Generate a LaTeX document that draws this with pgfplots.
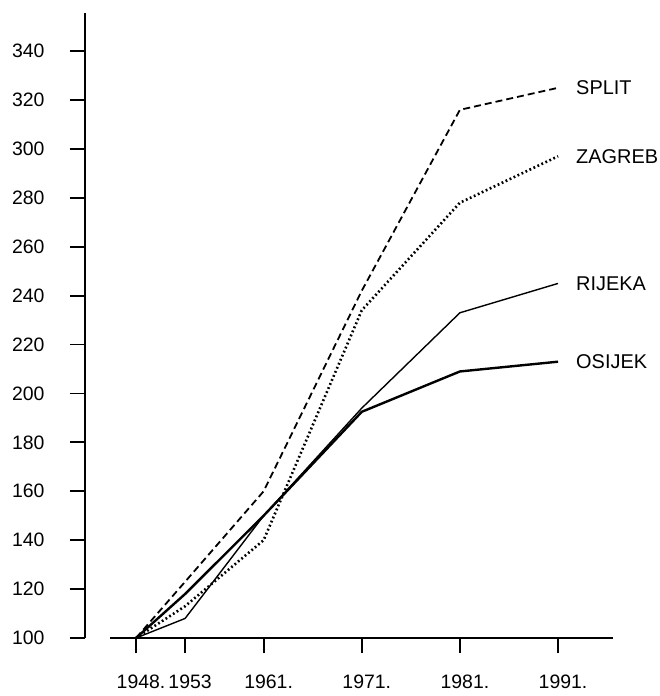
\documentclass[border=0pt]{standalone}
\usepackage{fontspec}
\setmainfont{Liberation Sans}
\usepackage{pgfplots}
\pgfplotsset{compat=1.18}

\begin{document}
\begin{tikzpicture}
\path[use as bounding box] (0,0) rectangle (660bp,696bp);
\begin{axis}[
    at={(85bp,58bp)}, anchor=south west,
    scale only axis,
    width=528bp, height=625bp,
    xmin=1942.8, xmax=1996.6,
    ymin=100, ymax=355.6,
    axis lines=left,
    axis line style={-, line width=1.8bp},
    x axis line style={draw=none},
    tick align=outside,
    major tick length=15bp,
    tick style={line width=1.8bp, black},
    xtick={1948,1953,1961,1971,1981,1991},
    xticklabels={1948.,1953,1961.,1971.,1981.,1991.},
    ytick={100,120,...,340},
    yticklabels={100,120,140,160,180,200,220,240,260,280,300,320,340},
    ticklabel style={font=\fontsize{19.5}{19.5}\selectfont},
    xticklabel shift=18bp,
    yticklabel shift=22bp,
    xticklabel style={xshift=5bp},
    clip=false,
]
% SPLIT
\addplot[black, line width=1.8bp, dash pattern=on 7bp off 4bp] coordinates {
    (1948,100) (1953,123) (1961,160) (1971,242) (1981,316) (1991,325)};
% ZAGREB
\addplot[black, line width=2.6bp, dash pattern=on 1.8bp off 2.6bp] coordinates {
    (1948,100) (1953,113) (1961,140) (1971,234) (1981,278) (1991,297)};
% RIJEKA
\addplot[black, line width=1.4bp] coordinates {
    (1948,100) (1953,108) (1961,150) (1971,194) (1981,233) (1991,245)};
% OSIJEK
\addplot[black, line width=2.4bp] coordinates {
    (1948,100) (1953,118) (1961,150) (1971,192.5) (1981,209) (1991,213)};

% os x ne dira os y
\draw[line width=1.8bp] (axis cs:1945.35,100) -- (axis cs:1996.6,100);
% crtice (tick marks), da budu sigurno vidljive
\pgfplotsinvokeforeach{100,120,...,340}{
    \draw[line width=1.8bp] (axis cs:1942.8,#1) -- ++(-15bp,0pt);
}
\pgfplotsinvokeforeach{1948,1953,1961,1971,1981,1991}{
    \draw[line width=1.8bp] (axis cs:#1,100) -- ++(0pt,-15bp);
}

\tikzset{grad/.style={anchor=west, inner sep=0pt, xshift=18bp, font=\fontsize{20}{20}\selectfont}}
\node[grad] at (axis cs:1991,325) {SPLIT};
\node[grad] at (axis cs:1991,297) {ZAGREB};
\node[grad] at (axis cs:1991,245) {RIJEKA};
\node[grad] at (axis cs:1991,213) {OSIJEK};
\end{axis}
\end{tikzpicture}
\end{document}
